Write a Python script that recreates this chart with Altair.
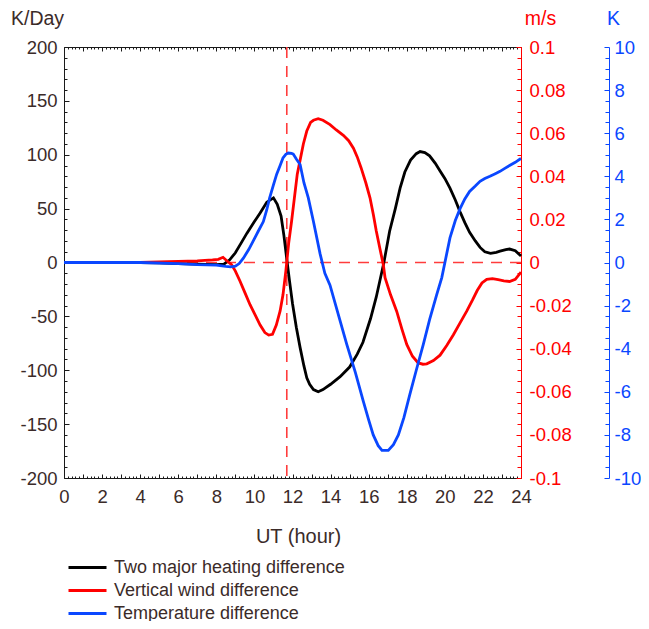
import altair as alt
import pandas as pd

FONT = "Liberation Sans"
TXT = "#3b2b29"
DARK = "#1a1a1a"
RED = "#ff0000"
BLUE = "#0a47ff"
DASH_RED = "#ff3c3c"

# ---- data ----
hours_heat = [0, 2, 4, 5, 6, 7, 8, 8.4, 8.7, 9.0, 9.3, 9.6, 10.0, 10.3, 10.65, 11.0, 11.2, 11.4,
              11.55, 11.7, 11.85, 12.0, 12.2, 12.4, 12.6, 12.75, 12.9, 13.1, 13.35, 13.6, 14.0,
              14.5, 15.0, 15.4, 15.7, 16.1, 16.4, 16.8, 17.1, 17.4, 17.65, 17.9, 18.2, 18.5, 18.7,
              18.95, 19.2, 19.5, 19.75, 20.0, 20.27, 20.55, 20.8, 21.05, 21.3, 21.6, 21.85, 22.1,
              22.4, 22.7, 22.9, 23.2, 23.4, 23.7, 24.0]
heat = [0, 0, 0, -0.3, -1, -1.5, -2, -1.5, 2.5, 9, 18, 27, 38, 46, 56, 60, 54, 43,
        25, 3, -18, -38, -60, -79, -96, -107, -113, -118, -120, -118, -113,
        -106, -97, -85, -74, -52, -32, 0, 29, 50, 69, 84, 95, 101, 103,
        102, 99, 92, 85, 78, 69, 58, 47, 37, 28, 20, 14, 10,
        8.5, 9.5, 10.5, 12, 12.5, 11, 6]

hours_wind = [0, 2, 4, 6, 7, 7.8, 8.1, 8.35, 8.55, 8.8, 9.0, 9.24, 9.5, 9.77, 10.05, 10.3, 10.55,
              10.75, 10.95, 11.15, 11.35, 11.5, 11.65, 11.8, 11.95, 12.1, 12.25, 12.4, 12.57,
              12.75, 12.95, 13.1, 13.35, 13.6, 13.97, 14.3, 14.67, 14.95, 15.2, 15.4, 15.6, 15.85,
              16.07, 16.25, 16.4, 16.6, 16.77, 16.86, 17.15, 17.47, 17.75, 18.0, 18.3, 18.6, 18.85,
              19.05, 19.4, 19.75, 20.1, 20.45, 20.8, 21.15, 21.45, 21.7, 21.95, 22.2, 22.5, 22.8,
              23.1, 23.4, 23.7, 24.0]
wind = [0, 0, 0.0001, 0.0005, 0.0008, 0.0012, 0.0015, 0.0024, 0.0008, -0.001, -0.004, -0.0086,
        -0.014, -0.0196, -0.0245, -0.029, -0.0325, -0.0337, -0.0333, -0.029, -0.0225, -0.015,
        -0.004, 0.009, 0.019, 0.03, 0.041, 0.0475, 0.055, 0.061, 0.065, 0.066, 0.0667, 0.066,
        0.064, 0.0615, 0.059, 0.0565, 0.053, 0.049, 0.044, 0.037, 0.030, 0.022, 0.0146, 0.006,
        -0.001, -0.007, -0.015, -0.0226, -0.031, -0.038, -0.0435, -0.0466, -0.0472, -0.047,
        -0.0455, -0.043, -0.0385, -0.0335, -0.028, -0.0226, -0.0175, -0.013, -0.0095, -0.0078,
        -0.0075, -0.008, -0.0085, -0.0088, -0.0078, -0.0045]

hours_temp = [0, 2, 4, 6, 7, 8, 8.5, 8.75, 9.0, 9.2, 9.42, 9.7, 9.94, 10.2, 10.47, 10.65, 10.8,
              11.0, 11.17, 11.35, 11.5, 11.65, 11.78, 11.95, 12.04, 12.2, 12.4, 12.6, 12.83, 13.1,
              13.45, 13.7, 13.97, 14.4, 14.85, 15.3, 15.72, 16.0, 16.24, 16.5, 16.7, 17.03, 17.3,
              17.56, 17.85, 18.17, 18.5, 18.87, 19.2, 19.57, 19.84, 20.05, 20.27, 20.55, 20.8,
              21.05, 21.3, 21.6, 21.85, 22.1, 22.37, 22.65, 22.9, 23.15, 23.4, 23.7, 23.95, 24.0]
temp = [0, 0, 0, -0.05, -0.1, -0.12, -0.18, -0.2, -0.17, -0.05, 0.2, 0.6, 1.0, 1.45, 1.9, 2.45,
        3.0, 3.6, 4.1, 4.5, 4.85, 5.02, 5.08, 5.06, 5.03, 4.8, 4.55, 3.7, 3.0, 1.9,
        0.4, -0.5, -1.05, -2.4, -3.8, -5.1, -6.44, -7.3, -8.0, -8.5, -8.72, -8.72, -8.45,
        -8.0, -7.2, -6.1, -5.0, -3.8, -2.65, -1.5, -0.7, 0.2, 1.14, 1.95, 2.5,
        2.95, 3.3, 3.55, 3.77, 3.9, 4.0, 4.12, 4.23, 4.37, 4.5, 4.65, 4.8, 4.82]

series_names = ["Two major heating difference", "Vertical wind difference", "Temperature difference"]
series_colors = ["#000000", RED, BLUE]

zero_line = [0]
vline_hour = [11.7]

# tick positions
x_ticks = [round(i * 0.2, 1) for i in range(121)]
y_heat_ticks = list(range(-200, 201, 10))
y_wind_ticks = [round(-0.1 + i * 0.005, 3) for i in range(41)]
y_temp_ticks = [round(-10 + i * 0.5, 1) for i in range(41)]

df_heat = pd.DataFrame({"hour": hours_heat, "heat": heat, "series": series_names[0]})
df_wind = pd.DataFrame({"hour": hours_wind, "wind": wind, "series": series_names[1]})
df_temp = pd.DataFrame({"hour": hours_temp, "temp": temp, "series": series_names[2]})

color_scale = alt.Scale(domain=series_names, range=series_colors)
legend = alt.Legend(title=None, orient="none", legendX=12.5, legendY=509.5, direction="vertical",
                    symbolType="M-2,0H2", symbolSize=361, symbolStrokeWidth=3,
                    symbolFillColor="transparent",
                    labelFont=FONT, labelFontSize=18, labelColor=TXT, labelOffset=15.5,
                    rowPadding=3, padding=0, labelLimit=400)

xmaj = "abs(datum.value - round(datum.value)) < 0.01"
x_scale = alt.Scale(domain=[0, 24], nice=False, zero=False)

LBL = 18.5

x_bottom = alt.Axis(
    orient="bottom", values=x_ticks,
    labelExpr="(" + xmaj + " && round(datum.value) % 2 === 0) ? toString(round(datum.value)) : ''",
    tickSize={"expr": xmaj + " ? -4 : -2"}, tickColor=DARK, domainColor=DARK,
    labelFont=FONT, labelFontSize=LBL, labelColor=TXT, labelPadding=13,
    labelOverlap=False, labelFlush=False, grid=False,
    title="UT (hour)", titleFont=FONT, titleFontSize=20, titleFontWeight="normal",
    titleColor=TXT, titleX=234, titleY=64, titleAlign="center", titleBaseline="alphabetic")

x_top = alt.Axis(
    orient="top", values=x_ticks, labels=False,
    tickSize={"expr": xmaj + " ? -4 : -2"}, tickColor=DARK, domainColor=DARK,
    grid=False, title=None)

heat_maj = "abs(round(datum.value)) % 50 === 0"
y_left = alt.Axis(
    orient="left", values=y_heat_ticks,
    labelExpr=heat_maj + " ? toString(round(datum.value)) : ''",
    tickSize={"expr": heat_maj + " ? -5 : -3"}, tickColor=DARK, domainColor=DARK,
    labelFont=FONT, labelFontSize=LBL, labelColor=TXT, labelPadding=12,
    labelOverlap=False, labelFlush=False, grid=False,
    title="K/Day", titleAngle=0, titleX=-27, titleY=-23, titleAlign="center",
    titleBaseline="alphabetic", titleFont=FONT, titleFontSize=19.5,
    titleFontWeight="normal", titleColor=TXT)

wind_maj = "abs(round(datum.value * 1000)) % 20 === 0"
y_red = alt.Axis(
    orient="right", values=y_wind_ticks,
    labelExpr=wind_maj + " ? toString(round(datum.value * 1000) / 1000) : ''",
    tickSize={"expr": wind_maj + " ? -5 : -4"}, tickColor=RED, domainColor=RED,
    labelFont=FONT, labelFontSize=LBL, labelColor=RED, labelPadding=13,
    labelOverlap=False, labelFlush=False, grid=False,
    title="m/s", titleAngle=0, titleX=19, titleY=-23, titleAlign="center",
    titleBaseline="alphabetic", titleFont=FONT, titleFontSize=19.5,
    titleFontWeight="normal", titleColor=RED)

temp_maj = "abs(round(datum.value * 2)) % 4 === 0"
y_blue = alt.Axis(
    orient="right", offset=88, values=y_temp_ticks,
    labelExpr=temp_maj + " ? toString(round(datum.value)) : ''",
    tickSize={"expr": temp_maj + " ? -5 : -4"}, tickColor=BLUE, domainColor=BLUE,
    labelFont=FONT, labelFontSize=LBL, labelColor=BLUE, labelPadding=10,
    labelOverlap=False, labelFlush=False, grid=False,
    title="K", titleAngle=0, titleX=4, titleY=-23, titleAlign="center",
    titleBaseline="alphabetic", titleFont=FONT, titleFontSize=19.5,
    titleFontWeight="normal", titleColor=BLUE)

black = alt.Chart(df_heat).mark_line(strokeWidth=2.8).encode(
    x=alt.X("hour:Q", scale=x_scale, axis=x_bottom),
    y=alt.Y("heat:Q", scale=alt.Scale(domain=[-200, 200], nice=False, zero=False), axis=y_left),
    color=alt.Color("series:N", scale=color_scale, legend=legend),
)

red = alt.Chart(df_wind).mark_line(strokeWidth=2.8).encode(
    x=alt.X("hour:Q", scale=x_scale, axis=None),
    y=alt.Y("wind:Q", scale=alt.Scale(domain=[-0.1, 0.1], nice=False, zero=False), axis=y_red),
    color=alt.Color("series:N", scale=color_scale, legend=legend),
)

blue = alt.Chart(df_temp).mark_line(strokeWidth=2.8).encode(
    x=alt.X("hour:Q", scale=x_scale, axis=None),
    y=alt.Y("temp:Q", scale=alt.Scale(domain=[-10, 10], nice=False, zero=False), axis=y_blue),
    color=alt.Color("series:N", scale=color_scale, legend=legend),
)

hline = alt.Chart(pd.DataFrame({"v": zero_line})).mark_rule(
    color=DASH_RED, strokeWidth=1.6, strokeDash=[11, 8]).encode(
    y=alt.Y("v:Q", scale=alt.Scale(domain=[-1, 1], nice=False), axis=None))

vline = alt.Chart(pd.DataFrame({"h": vline_hour})).mark_rule(
    color=DASH_RED, strokeWidth=1.6, strokeDash=[11, 8]).encode(
    x=alt.X("h:Q", scale=x_scale, axis=x_top))

chart = alt.layer(hline, vline, black, red, blue).resolve_scale(
    x="independent", y="independent"
).properties(
    width=457, height=431,
    autosize=alt.AutoSizeParams(type="none"),
    padding={"left": 56, "top": 39, "right": 120, "bottom": 143},
).configure_view(stroke=None).configure(background="white")

chart.save("out.html", embed_options={"renderer": "svg", "actions": False})
